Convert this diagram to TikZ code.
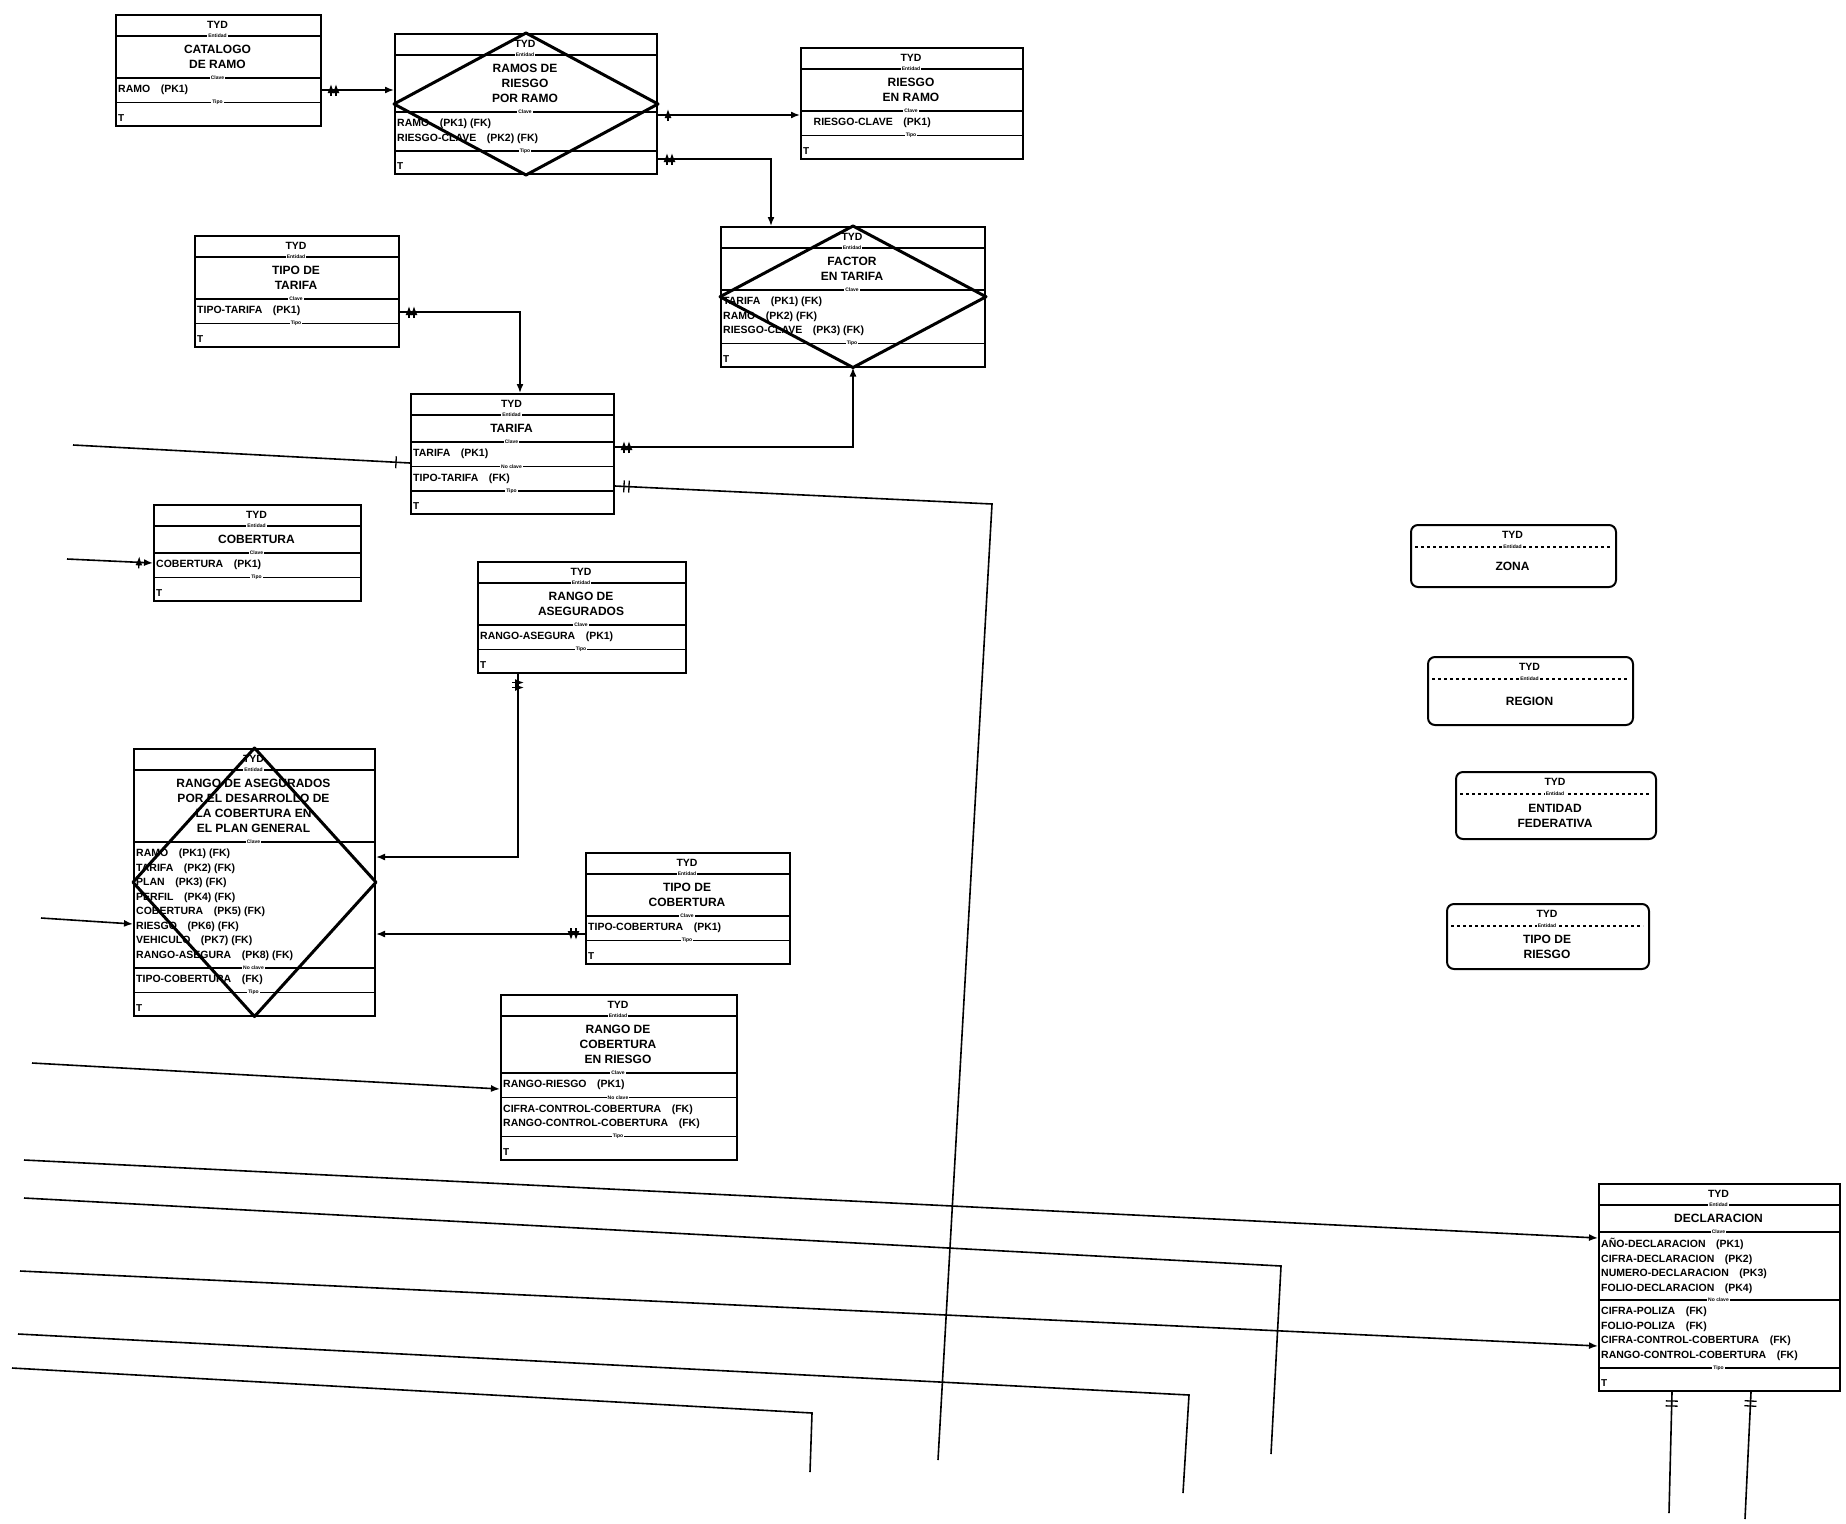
\documentclass[tikz,border=0pt]{standalone}
\usepackage{fontspec}
\setmainfont{Liberation Sans}
\usetikzlibrary{arrows.meta,decorations.markings}

\tikzset{
  caja/.style={draw, line width=2pt, inner sep=0pt},
  vista/.style={draw, line width=2pt, rounded corners=7pt, inner sep=0pt},
  rombo/.style={line width=3pt, line join=round},
  linea/.style={line width=1.4pt},
  etiq/.style={fill=white, inner sep=1pt, font=\bfseries\fontsize{5}{6}\selectfont},
  tyd/.style={font=\bfseries\fontsize{10.5}{12}\selectfont},
  nom/.style={align=center, inner sep=0pt, font=\bfseries\fontsize{12}{15}\selectfont},
  atr/.style={align=left, inner sep=0pt, font=\bfseries\fontsize{10.5}{14.5}\selectfont},
  marcaT/.style={inner sep=0pt, font=\bfseries\fontsize{10}{10}\selectfont},
  rel/.style={line width=1.6pt},
  hijo/.style={-{Latex[length=9pt,width=7pt]}},
  dosb ini/.style={postaction={decorate, decoration={markings,
      mark=at position 9pt with {\draw[line width=1.3pt] (0,-6pt) -- (0,6pt);},
      mark=at position 14pt with {\draw[line width=1.3pt] (0,-6pt) -- (0,6pt);}}}},
  unab ini/.style={postaction={decorate, decoration={markings,
      mark=at position 10pt with {\draw[line width=1.3pt] (0,-6pt) -- (0,6pt);}}}},
  unab fin/.style={postaction={decorate, decoration={markings,
      mark=at position -14pt with {\draw[line width=1.3pt] (0,-6pt) -- (0,6pt);}}}},
}

% entidad: nombre, x, y (esquina superior izquierda), ancho
\newcommand{\entidad}[4]{\gdef\entId{#1}\gdef\entX{#2}\gdef\entY{#3}\gdef\entW{#4}%
  \node[tyd] at (\entX+\entW/2,\entY+11) {TYD};%
  \gdef\entA{22}}
\newcommand{\divisor}[1]{\draw[linea] (\entX,\entY+\entA) -- (\entX+\entW,\entY+\entA) node[midway,etiq] {#1};}
\newcommand{\nombre}[2]{\pgfmathsetmacro\entH{12+15*#1}%
  \node[nom] at (\entX+\entW/2,\entY+\entA+\entH/2) {#2};%
  \pgfmathsetmacro\entT{\entA+\entH}\global\let\entA\entT}
\newcommand{\atributos}[2]{\pgfmathsetmacro\entH{10+14.5*#1}%
  \node[atr,anchor=west] at (\entX+3,\entY+\entA+\entH/2) {#2};%
  \pgfmathsetmacro\entT{\entA+\entH}\global\let\entA\entT}
\newcommand{\cierre}{\pgfmathsetmacro\entH{\entA+22}%
  \node[marcaT,anchor=south west] at (\entX+3,\entY+\entH-3) {T};%
  \node[caja,anchor=north west,minimum width=\entW pt,minimum height=\entH pt] (\entId) at (\entX,\entY) {};}
% vista redondeada: nombre, x, y, ancho, alto, texto
\newcommand{\vista}[6]{%
  \node[vista,anchor=north west,minimum width=#4pt,minimum height=#5pt] (#1) at (#2,#3) {};
  \node[tyd] at (#2+#4/2,#3+11) {TYD};
  \draw[linea,dashed] (#2+5,#3+23) -- (#2+#4-5,#3+23) node[midway,etiq] {Entidad};
  \node[nom] at (#2+#4/2,{#3+23+(#5-23)/2}) {#6};}

\begin{document}
\begin{tikzpicture}[x=1pt,y=-1pt]
\useasboundingbox (0,0) rectangle (1846,1523);

% Entidades
\entidad{A}{115}{14}{205}
\divisor{Entidad}\nombre{2}{CATALOGO\\DE RAMO}\divisor{Clave}
\atributos{1}{RAMO\quad(PK1)}\divisor{Tipo}\cierre

\entidad{B}{394}{33}{262}
\divisor{Entidad}\nombre{3}{RAMOS DE\\RIESGO\\POR RAMO}\divisor{Clave}
\atributos{2}{RAMO\quad(PK1) (FK)\\RIESGO-CLAVE\quad(PK2) (FK)}\divisor{Tipo}\cierre

\entidad{C}{800}{47}{222}
\divisor{Entidad}\nombre{2}{RIESGO\\EN RAMO}\divisor{Clave}
\atributos{1}{\quad RIESGO-CLAVE\quad(PK1)}\divisor{Tipo}\cierre

\entidad{D}{194}{235}{204}
\divisor{Entidad}\nombre{2}{TIPO DE\\TARIFA}\divisor{Clave}
\atributos{1}{TIPO-TARIFA\quad(PK1)}\divisor{Tipo}\cierre

\entidad{E}{720}{226}{264}
\divisor{Entidad}\nombre{2}{FACTOR\\EN TARIFA}\divisor{Clave}
\atributos{3}{TARIFA\quad(PK1) (FK)\\RAMO\quad(PK2) (FK)\\RIESGO-CLAVE\quad(PK3) (FK)}\divisor{Tipo}\cierre

\entidad{F}{410}{393}{203}
\divisor{Entidad}\nombre{1}{TARIFA}\divisor{Clave}
\atributos{1}{TARIFA\quad(PK1)}\divisor{No clave}
\atributos{1}{TIPO-TARIFA\quad(FK)}\divisor{Tipo}\cierre

\entidad{G}{153}{504}{207}
\divisor{Entidad}\nombre{1}{COBERTURA}\divisor{Clave}
\atributos{1}{COBERTURA\quad(PK1)}\divisor{Tipo}\cierre

\entidad{H}{477}{561}{208}
\divisor{Entidad}\nombre{2}{RANGO DE\\ASEGURADOS}\divisor{Clave}
\atributos{1}{RANGO-ASEGURA\quad(PK1)}\divisor{Tipo}\cierre

\entidad{I}{133}{748}{241}
\divisor{Entidad}\nombre{4}{RANGO DE ASEGURADOS\\POR EL DESARROLLO DE\\LA COBERTURA EN\\EL PLAN GENERAL}\divisor{Clave}
\atributos{8}{RAMO\quad(PK1) (FK)\\TARIFA\quad(PK2) (FK)\\PLAN\quad(PK3) (FK)\\PERFIL\quad(PK4) (FK)\\COBERTURA\quad(PK5) (FK)\\RIESGO\quad(PK6) (FK)\\VEHICULO\quad(PK7) (FK)\\RANGO-ASEGURA\quad(PK8) (FK)}\divisor{No clave}
\atributos{1}{TIPO-COBERTURA\quad(FK)}\divisor{Tipo}\cierre

\entidad{J}{585}{852}{204}
\divisor{Entidad}\nombre{2}{TIPO DE\\COBERTURA}\divisor{Clave}
\atributos{1}{TIPO-COBERTURA\quad(PK1)}\divisor{Tipo}\cierre

\entidad{K}{500}{994}{236}
\divisor{Entidad}\nombre{3}{RANGO DE\\COBERTURA\\EN RIESGO}\divisor{Clave}
\atributos{1}{RANGO-RIESGO\quad(PK1)}\divisor{No clave}
\atributos{2}{CIFRA-CONTROL-COBERTURA\quad(FK)\\RANGO-CONTROL-COBERTURA\quad(FK)}\divisor{Tipo}\cierre

\entidad{P}{1598}{1183}{241}
\divisor{Entidad}\nombre{1}{DECLARACION}\divisor{Clave}
\atributos{4}{AÑO-DECLARACION\quad(PK1)\\CIFRA-DECLARACION\quad(PK2)\\NUMERO-DECLARACION\quad(PK3)\\FOLIO-DECLARACION\quad(PK4)}\divisor{No clave}
\atributos{4}{CIFRA-POLIZA\quad(FK)\\FOLIO-POLIZA\quad(FK)\\CIFRA-CONTROL-COBERTURA\quad(FK)\\RANGO-CONTROL-COBERTURA\quad(FK)}\divisor{Tipo}\cierre

\vista{L}{1410}{524}{205}{62}{ZONA}
\vista{M}{1427}{656}{205}{68}{REGION}
\vista{N}{1455}{771}{200}{67}{ENTIDAD\\FEDERATIVA}
\vista{O}{1446}{903}{202}{65}{TIPO DE\\RIESGO}

% Entidades asociativas
\draw[rombo] (B.north) -- (B.east) -- (B.south) -- (B.west) -- cycle;
\draw[rombo] (E.north) -- (E.east) -- (E.south) -- (E.west) -- cycle;
\draw[rombo] (I.north) -- (I.east) -- (I.south) -- (I.west) -- cycle;

% Relaciones
\draw[rel, dosb ini, hijo] (A.east |- 0,90) -- (B.west |- 0,90);
\draw[rel, unab ini, hijo] (B.east |- 0,115) -- (C.west |- 0,115);
\draw[rel, dosb ini, hijo] (B.east |- 0,159) -| (771,0 |- E.north);
\draw[rel, dosb ini, hijo] (D.east |- 0,312) -| (520,0 |- F.north);
\draw[rel, dosb ini, hijo] (F.east |- 0,447) -| (E.south);
\draw[rel, dosb ini, hijo] (518,0 |- H.south) |- (I.east |- 0,857);
\draw[rel, dosb ini, hijo] (J.west |- 0,934) -- (I.east |- 0,934);

% Relaciones con entidades de otras hojas
\coordinate (izq1) at (73,445);
\coordinate (izq2) at (67,559);
\coordinate (izq3) at (41,918);
\coordinate (izq4) at (32,1063);
\coordinate (izq5) at (24,1160);
\coordinate (izq6) at (24,1198);
\coordinate (izq7) at (20,1271);
\coordinate (izq8) at (18,1334);
\coordinate (izq9) at (12,1368);
\coordinate (codo1) at (992,504);
\coordinate (codo6) at (1281,1266);
\coordinate (codo8) at (1189,1395);
\coordinate (codo9) at (812,1413);
\coordinate (bajo1) at (938,1460);
\coordinate (bajo6) at (1271,1454);
\coordinate (bajo8) at (1183,1493);
\coordinate (bajo9) at (810,1472);
\coordinate (bajoP1) at (1669,1513);
\coordinate (bajoP2) at (1745,1519);

\draw[rel, unab fin] (izq1) -- (F.west |- 0,463);
\draw[rel, dosb ini] (F.east |- 0,486) -- (codo1) -- (bajo1);
\draw[rel, unab fin, hijo] (izq2) -- (G.west |- 0,563);
\draw[rel, hijo] (izq3) -- (I.west |- 0,924);
\draw[rel, hijo] (izq4) -- (K.west |- 0,1089);
\draw[rel, hijo] (izq5) -- (P.west |- 0,1238);
\draw[rel] (izq6) -- (codo6) -- (bajo6);
\draw[rel, hijo] (izq7) -- (P.west |- 0,1346);
\draw[rel] (izq8) -- (codo8) -- (bajo8);
\draw[rel] (izq9) -- (codo9) -- (bajo9);
\draw[rel, dosb ini] (1672,0 |- P.south) -- (bajoP1);
\draw[rel, dosb ini] (1751,0 |- P.south) -- (bajoP2);
\end{tikzpicture}
\end{document}
